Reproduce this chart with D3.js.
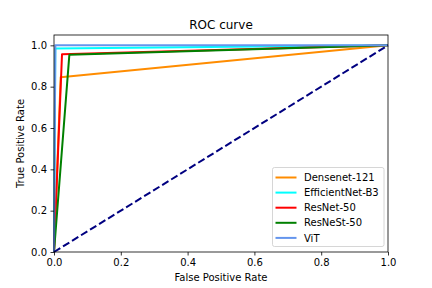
<!DOCTYPE html>
<html>
<head>
<meta charset="utf-8">
<script src="https://cdn.jsdelivr.net/npm/d3@7"></script>
<style>
  body { margin: 0; background: #fff; }
  text { font-family: "DejaVu Sans", sans-serif; fill: #000; }
</style>
</head>
<body>
<div id="chart-area" style="width:432px;height:288px"></div>
<script>
// data
var models = ["Densenet-121", "EfficientNet-B3", "ResNet-50", "ResNeSt-50", "ViT"];
var colors = ["#ff8c00", "#00ffff", "#ff0000", "#008000", "#6495ed"];
var fprs = [
  [0, 0.02, 1],
  [0, 0.004, 1],
  [0, 0.024, 1],
  [0, 0.046, 1],
  [0, 0.004, 1]
];
var tprs = [
  [0, 0.845, 1],
  [0, 0.985, 1],
  [0, 0.957, 1],
  [0, 0.955, 1],
  [0, 1.0, 1]
];
var chanceX = [0, 1];
var chanceY = [0, 1];
var xTicks = [0, 0.2, 0.4, 0.6, 0.8, 1.0];
var yTicks = [0, 0.2, 0.4, 0.6, 0.8, 1.0];

var width = 432, height = 288;
var margin = {left: 54, right: 44, top: 35, bottom: 36};

var svg = d3.select("#chart-area").append("svg")
    .attr("width", width)
    .attr("height", height);

var x = d3.scaleLinear().domain([0, 1]).range([margin.left, width - margin.right]);
var y = d3.scaleLinear().domain([0, 1.05]).range([height - margin.bottom, margin.top]);

var plot = svg.append("g");

var line = d3.line()
    .x(function(d) { return x(d[0]); })
    .y(function(d) { return y(d[1]); });

models.forEach(function(m, i) {
  var pts = fprs[i].map(function(f, j) { return [f, tprs[i][j]]; });
  plot.append("path")
      .attr("d", line(pts))
      .attr("fill", "none")
      .attr("stroke", colors[i])
      .attr("stroke-width", 2)
      .attr("stroke-linejoin", "round");
});

plot.append("path")
    .attr("d", line(chanceX.map(function(v, j) { return [v, chanceY[j]]; })))
    .attr("fill", "none")
    .attr("stroke", "#000080")
    .attr("stroke-width", 2)
    .attr("stroke-dasharray", "7.4,3.2");

// axes
svg.append("g")
    .attr("transform", "translate(0," + (height - margin.bottom) + ")")
    .call(d3.axisBottom(x).tickValues(xTicks).tickFormat(d3.format(".1f")).tickSize(3.5).tickPadding(3.5))
    .call(function(g) { g.select(".domain").remove(); })
    .selectAll("text").attr("font-size", "10px").attr("font-family", "DejaVu Sans");

svg.append("g")
    .attr("transform", "translate(" + margin.left + ",0)")
    .call(d3.axisLeft(y).tickValues(yTicks).tickFormat(d3.format(".1f")).tickSize(3.5).tickPadding(3.5))
    .call(function(g) { g.select(".domain").remove(); })
    .selectAll("text").attr("font-size", "10px").attr("font-family", "DejaVu Sans");

svg.selectAll(".tick line").attr("stroke", "#000").attr("stroke-width", 0.8);

svg.append("rect")
    .attr("x", margin.left)
    .attr("y", margin.top)
    .attr("width", width - margin.left - margin.right)
    .attr("height", height - margin.top - margin.bottom)
    .attr("fill", "none")
    .attr("stroke", "#000")
    .attr("stroke-width", 0.8);

// labels
svg.append("text")
    .attr("x", (margin.left + width - margin.right) / 2)
    .attr("y", 29)
    .attr("text-anchor", "middle")
    .attr("font-size", "12px")
    .text("ROC curve");

svg.append("text")
    .attr("x", (margin.left + width - margin.right) / 2)
    .attr("y", 281)
    .attr("text-anchor", "middle")
    .attr("font-size", "10px")
    .text("False Positive Rate");

svg.append("text")
    .attr("transform", "translate(24," + ((margin.top + height - margin.bottom) / 2) + ") rotate(-90)")
    .attr("text-anchor", "middle")
    .attr("font-size", "10px")
    .text("True Positive Rate");

// legend
var legend = svg.append("g")
    .attr("transform", "translate(272.5,167.5)");

legend.append("rect")
    .attr("width", 111.5)
    .attr("height", 79)
    .attr("rx", 2)
    .attr("fill", "#fff")
    .attr("fill-opacity", 0.8)
    .attr("stroke", "#ccc")
    .attr("stroke-width", 0.8);

models.forEach(function(m, i) {
  var row = legend.append("g")
      .attr("transform", "translate(0," + (10 + i * 15.1) + ")");
  row.append("line")
      .attr("x1", 3).attr("x2", 24)
      .attr("stroke", colors[i])
      .attr("stroke-width", 2);
  row.append("text")
      .attr("x", 31.5)
      .attr("y", 3.6)
      .attr("font-size", "10px")
      .text(m);
});
</script>
</body>
</html>
